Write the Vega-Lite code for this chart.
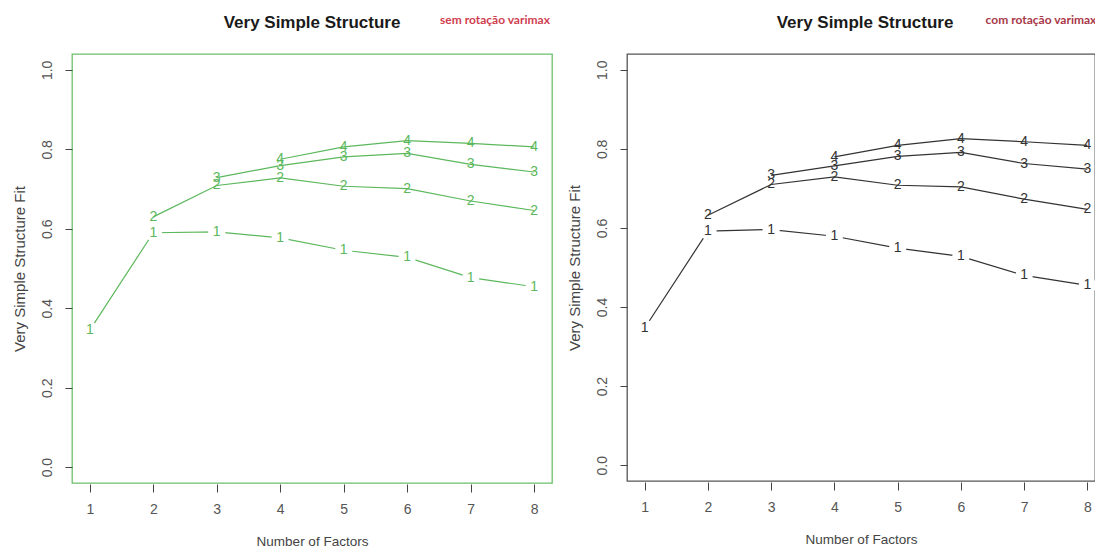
{
  "$schema": "https://vega.github.io/schema/vega-lite/v6.json",
  "background": "white",
  "padding": {"left": 11, "top": 13, "right": 0, "bottom": 0},
  "spacing": 12,
  "config": {
    "font": "Liberation Sans",
    "axis": {"labelFont": "Liberation Sans", "titleFont": "Liberation Sans", "titleFontWeight": "normal", "labelFontSize": 14, "titleFontSize": 13.5, "grid": false, "domain": false},
    "axisY": {"titleFontSize": 15},
    "title": {"font": "Liberation Sans", "fontSize": 17, "fontWeight": "bold", "color": "#1a1a1a", "anchor": "middle", "frame": "group", "offset": -18}
  },
  "datasets": {
    "sem": [
      {"c": 1, "nf": 1, "fit": 0.345},
      {"c": 1, "nf": 2, "fit": 0.590},
      {"c": 1, "nf": 3, "fit": 0.592},
      {"c": 1, "nf": 4, "fit": 0.577},
      {"c": 1, "nf": 5, "fit": 0.546},
      {"c": 1, "nf": 6, "fit": 0.528},
      {"c": 1, "nf": 7, "fit": 0.477},
      {"c": 1, "nf": 8, "fit": 0.454},
      {"c": 2, "nf": 2, "fit": 0.630},
      {"c": 2, "nf": 3, "fit": 0.709},
      {"c": 2, "nf": 4, "fit": 0.728},
      {"c": 2, "nf": 5, "fit": 0.707},
      {"c": 2, "nf": 6, "fit": 0.701},
      {"c": 2, "nf": 7, "fit": 0.670},
      {"c": 2, "nf": 8, "fit": 0.646},
      {"c": 3, "nf": 3, "fit": 0.729},
      {"c": 3, "nf": 4, "fit": 0.759},
      {"c": 3, "nf": 5, "fit": 0.781},
      {"c": 3, "nf": 6, "fit": 0.790},
      {"c": 3, "nf": 7, "fit": 0.762},
      {"c": 3, "nf": 8, "fit": 0.743},
      {"c": 4, "nf": 4, "fit": 0.775},
      {"c": 4, "nf": 5, "fit": 0.806},
      {"c": 4, "nf": 6, "fit": 0.822},
      {"c": 4, "nf": 7, "fit": 0.815},
      {"c": 4, "nf": 8, "fit": 0.806}
    ],
    "com": [
      {"c": 1, "nf": 1, "fit": 0.347},
      {"c": 1, "nf": 2, "fit": 0.592},
      {"c": 1, "nf": 3, "fit": 0.596},
      {"c": 1, "nf": 4, "fit": 0.579},
      {"c": 1, "nf": 5, "fit": 0.549},
      {"c": 1, "nf": 6, "fit": 0.528},
      {"c": 1, "nf": 7, "fit": 0.480},
      {"c": 1, "nf": 8, "fit": 0.455},
      {"c": 2, "nf": 2, "fit": 0.632},
      {"c": 2, "nf": 3, "fit": 0.710},
      {"c": 2, "nf": 4, "fit": 0.729},
      {"c": 2, "nf": 5, "fit": 0.708},
      {"c": 2, "nf": 6, "fit": 0.704},
      {"c": 2, "nf": 7, "fit": 0.673},
      {"c": 2, "nf": 8, "fit": 0.647},
      {"c": 3, "nf": 3, "fit": 0.733},
      {"c": 3, "nf": 4, "fit": 0.757},
      {"c": 3, "nf": 5, "fit": 0.781},
      {"c": 3, "nf": 6, "fit": 0.791},
      {"c": 3, "nf": 7, "fit": 0.763},
      {"c": 3, "nf": 8, "fit": 0.749},
      {"c": 4, "nf": 4, "fit": 0.780},
      {"c": 4, "nf": 5, "fit": 0.809},
      {"c": 4, "nf": 6, "fit": 0.826},
      {"c": 4, "nf": 7, "fit": 0.818},
      {"c": 4, "nf": 8, "fit": 0.809}
    ]
  },
  "hconcat": [
    {
      "width": 480,
      "height": 429,
      "title": {"text": "Very Simple Structure"},
      "view": {"stroke": "#6cbf6c", "strokeWidth": 1.3},
      "layer": [
        {
          "data": {"name": "sem"},
          "encoding": {
            "x": {"field": "nf", "type": "quantitative", "scale": {"domain": [0.72, 8.28], "nice": false, "zero": false},
                  "axis": {"values": [1, 2, 3, 4, 5, 6, 7, 8], "format": "d", "title": "Number of Factors", "offset": 1, "tickSize": 8, "tickColor": "#444", "labelColor": "#555", "titleColor": "#444", "labelPadding": 10, "titlePadding": 18, "labelFlush": false}},
            "y": {"field": "fit", "type": "quantitative", "scale": {"domain": [-0.04, 1.04], "nice": false, "zero": false},
                  "axis": {"values": [0, 0.2, 0.4, 0.6, 0.8, 1.0], "format": ".1f", "title": "Very Simple Structure Fit", "labelAngle": 270, "labelAlign": "center", "labelBaseline": "alphabetic", "labelPadding": 14, "tickSize": 7, "tickColor": "#444", "labelColor": "#555", "titleColor": "#444", "titlePadding": 13, "labelFlush": false}}
          },
          "layer": [
            {"mark": {"type": "line", "color": "#5cb85c", "strokeWidth": 1.2}, "encoding": {"detail": {"field": "c"}}},
            {"transform": [{"filter": "datum.c == 1"}], "mark": {"type": "point", "shape": "circle", "filled": true, "color": "white", "opacity": 1, "size": 300}},
            {"mark": {"type": "text", "color": "#5cb85c", "fontSize": 14, "align": "center", "baseline": "middle"}, "encoding": {"text": {"field": "c"}}}
          ]
        },
        {"data": {"values": [{"note": "sem  rotação varimax"}]},
         "mark": {"type": "text", "align": "left", "baseline": "middle", "color": "#d04050", "font": "Lato", "fontWeight": "bold", "fontSize": 12},
         "encoding": {"x": {"datum": 6.516}, "y": {"datum": 1.1256}, "text": {"field": "note"}}}
      ]
    },
    {
      "width": 468,
      "height": 427,
      "title": {"text": "Very Simple Structure", "dx": 4},
      "view": {"stroke": "#555", "strokeWidth": 1.3},
      "layer": [
        {
          "data": {"name": "com"},
          "encoding": {
            "x": {"field": "nf", "type": "quantitative", "scale": {"domain": [0.72, 8.12], "nice": false, "zero": false},
                  "axis": {"values": [1, 2, 3, 4, 5, 6, 7, 8], "format": "d", "title": "Number of Factors", "offset": 1, "tickSize": 8, "tickColor": "#444", "labelColor": "#555", "titleColor": "#444", "labelPadding": 10, "titlePadding": 18, "labelFlush": false}},
            "y": {"field": "fit", "type": "quantitative", "scale": {"domain": [-0.04, 1.04], "nice": false, "zero": false},
                  "axis": {"values": [0, 0.2, 0.4, 0.6, 0.8, 1.0], "format": ".1f", "title": "Very Simple Structure Fit", "labelAngle": 270, "labelAlign": "center", "labelBaseline": "alphabetic", "labelPadding": 14, "tickSize": 7, "tickColor": "#444", "labelColor": "#555", "titleColor": "#444", "titlePadding": 13, "labelFlush": false}}
          },
          "layer": [
            {"mark": {"type": "line", "color": "#333", "strokeWidth": 1.2}, "encoding": {"detail": {"field": "c"}}},
            {"transform": [{"filter": "datum.c == 1"}], "mark": {"type": "point", "shape": "circle", "filled": true, "color": "white", "opacity": 1, "size": 300}},
            {"mark": {"type": "text", "color": "#333", "fontSize": 14, "align": "center", "baseline": "middle"}, "encoding": {"text": {"field": "c"}}}
          ]
        },
        {"data": {"values": [{"note": "com rotação varimax"}]},
         "mark": {"type": "text", "align": "left", "baseline": "middle", "color": "#a83848", "font": "Lato", "fontWeight": "bold", "fontSize": 12},
         "encoding": {"x": {"datum": 6.39}, "y": {"datum": 1.126}, "text": {"field": "note"}}}
      ]
    }
  ]
}
